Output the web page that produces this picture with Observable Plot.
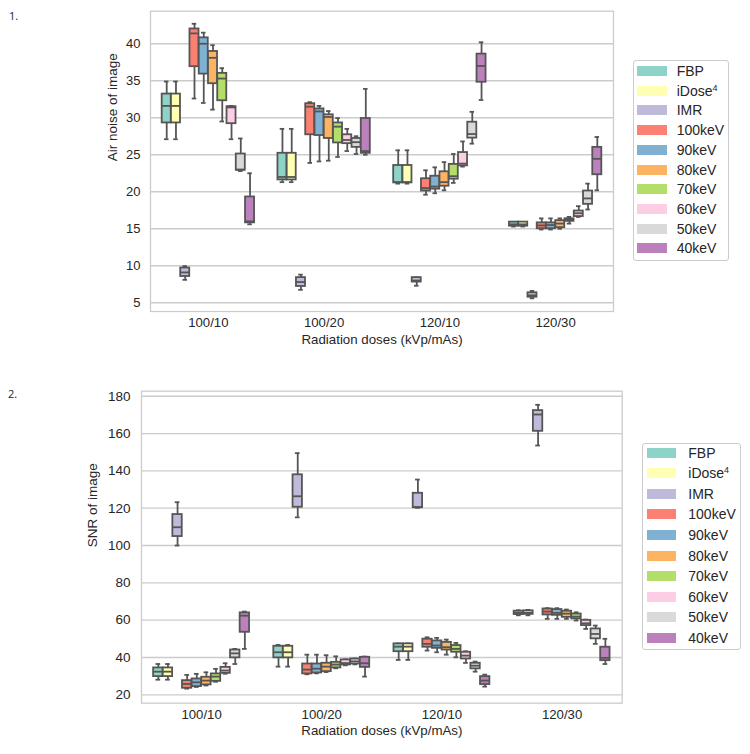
<!DOCTYPE html>
<html><head><meta charset="utf-8">
<script src="https://cdn.jsdelivr.net/npm/d3@7"></script>
<script src="https://cdn.jsdelivr.net/npm/@observablehq/plot@0.6"></script>
<style>
body{margin:0;background:#fff;font-family:"Liberation Sans",Arial,sans-serif;}
#root{position:relative;width:750px;height:754px;overflow:hidden;background:#fff;}
.num{position:absolute;font-family:"Open Sans",sans-serif;font-size:11px;color:#222;}
.legend{position:absolute;border:1px solid #cccccc;border-radius:3px;background:#fff;box-sizing:border-box;}
.sw{position:absolute;height:10px;}
.lab{position:absolute;font-size:14px;color:#262626;line-height:14px;white-space:nowrap;}
.lab sup{font-size:9px;vertical-align:5px;line-height:0;}
</style>
</head><body><div id="root"></div>
<script>
// Categories
const doses = ["100/10", "100/20", "120/10", "120/30"];
const methods = ["FBP", "iDose4", "IMR", "100keV", "90keV", "80keV", "70keV", "60keV", "50keV", "40keV"];
const methodLabels = ["FBP", "iDose<sup>4</sup>", "IMR", "100keV", "90keV", "80keV", "70keV", "60keV", "50keV", "40keV"];
const colors = ["#8dd3c7", "#ffffb3", "#bebada", "#fb8072", "#80b1d3", "#fdb462", "#b3de69", "#fccde5", "#d9d9d9", "#bc80bd"];
const noiseTicks = [5, 10, 15, 20, 25, 30, 35, 40];
const snrTicks = [20, 40, 60, 80, 100, 120, 140, 160, 180];

// Panel 1: Air noise — per method, per dose: [lower whisker, Q1, median, Q3, upper whisker]
const noiseFBP    = [[27.1,29.3,31.6,33.2,34.9],[21.3,21.6,22.0,25.2,28.5],[21.1,21.2,21.3,23.55,25.6],[15.3,15.35,15.6,15.9,15.9]];
const noiseIDose4 = [[27.1,29.3,31.6,33.2,34.9],[21.3,21.6,22.0,25.2,28.5],[21.1,21.2,21.3,23.55,25.6],[15.3,15.35,15.6,15.9,15.9]];
const noiseIMR    = [[8.1,8.55,9.1,9.7,9.95],[6.75,7.2,7.8,8.4,8.8],[7.3,7.8,8.0,8.4,8.4],[5.6,5.75,6.0,6.35,6.6]];
const noise100    = [[32.6,36.9,41.4,42.0,42.7],[23.9,27.7,31.5,31.9,32.1],[19.6,20.1,20.5,21.76,22.9],[14.9,15.0,15.45,15.8,16.4]];
const noise90     = [[32.0,35.9,40.0,40.8,41.5],[24.1,27.6,30.85,31.2,31.6],[19.8,20.35,20.7,22.1,23.3],[14.9,15.0,15.5,15.8,16.4]];
const noise80     = [[31.1,34.6,38.1,38.96,39.8],[24.2,27.2,30.1,30.4,30.9],[20.2,20.75,21.3,22.7,24.0],[15.0,15.15,15.7,16.1,16.4]];
const noise70     = [[29.5,32.3,35.3,36.0,36.7],[24.7,26.6,28.8,29.3,29.95],[21.2,21.7,22.1,23.7,25.1],[15.7,16.0,16.2,16.35,16.6]];
const noise60     = [[27.1,29.2,31.4,31.5,31.6],[25.5,26.5,27.0,27.7,28.5],[23.4,23.5,23.8,25.3,26.8],[16.6,16.65,17.1,17.4,18.05]];
const noise50     = [[22.8,22.9,23.0,25.1,27.2],[25.1,26.0,26.7,27.2,27.5],[26.5,27.25,27.8,29.4,30.8],[17.6,18.3,19.1,20.1,21.1]];
const noise40     = [[15.6,15.8,16.0,19.3,22.5],[25.0,25.2,25.5,29.9,33.9],[32.4,34.8,37.0,38.6,40.2],[20.2,22.3,24.45,26.0,27.4]];

// Panel 2: SNR
const snrFBP    = [[28.1,29.75,32.4,34.4,36.5],[35.1,39.8,42.8,46.0,46.7],[38.7,43.1,45.8,47.3,47.5],[62.6,63.0,63.9,64.8,65.3]];
const snrIDose4 = [[28.1,29.75,32.4,34.4,36.5],[35.1,39.8,42.8,46.0,46.7],[38.7,43.1,45.8,47.3,47.5],[62.6,63.1,64.0,65.0,65.5]];
const snrIMR    = [[100.0,104.8,109.8,116.6,123.2],[115.1,120.5,126.4,137.9,149.5],[120.2,120.3,120.5,128.0,135.35],[153.6,161.2,170.2,172.3,175.4]];
const snr100    = [[23.3,23.5,25.8,27.6,30.65],[31.0,31.2,33.5,36.5,41.5],[43.7,45.5,47.3,49.8,50.8],[60.7,62.8,64.6,66.0,66.4]];
const snr90     = [[24.2,24.4,26.7,28.5,31.2],[31.5,31.7,34.0,36.5,41.5],[42.8,44.9,46.4,48.9,50.5],[60.7,62.6,63.9,65.7,66.4]];
const snr80     = [[25.0,25.3,27.6,29.4,32.05],[32.2,32.4,35.1,36.9,41.2],[41.5,44.0,45.5,48.1,49.6],[60.7,61.5,63.5,64.8,65.7]];
const snr70     = [[27.0,27.2,29.75,31.2,33.9],[34.2,34.4,36.2,37.4,40.6],[40.1,42.8,44.6,46.4,47.8],[59.8,60.7,61.9,63.3,64.2]];
const snr60     = [[31.3,31.5,33.0,34.7,36.9],[35.8,36.0,37.0,38.7,39.0],[37.1,39.2,41.0,42.8,43.3],[55.3,57.1,58.3,59.9,60.3]];
const snr50     = [[36.5,39.8,42.2,44.0,44.6],[36.3,36.5,37.9,39.2,39.4],[32.4,33.9,35.6,36.9,37.8],[47.3,50.0,52.6,55.3,57.1]];
const snr40     = [[44.6,53.5,62.4,63.9,64.6],[29.75,34.7,36.9,40.1,40.5],[24.4,25.5,27.6,29.75,30.8],[36.5,38.3,39.8,45.5,50.0]];

const noiseSeries = [noiseFBP, noiseIDose4, noiseIMR, noise100, noise90, noise80, noise70, noise60, noise50, noise40];
const snrSeries = [snrFBP, snrIDose4, snrIMR, snr100, snr90, snr80, snr70, snr60, snr50, snr40];

const STEP = 0.08, HW = 0.039, EDGE = "#555555";

function table(series) {
  const rows = [];
  series.forEach((s, mi) => s.forEach((v, di) => {
    const pos = di + (mi - 4.5) * STEP;
    rows.push({method: methods[mi], dose: doses[di], pos, lo: v[0], q1: v[1], med: v[2], q3: v[3], hi: v[4]});
  }));
  return rows;
}

function chart({series, ticks, domain, width, height, mL, mR, mT, mB, ylabel, ydx, tickPad, fs}) {
  const data = table(series);
  return Plot.plot({
    width, height, marginLeft: mL, marginRight: mR, marginTop: mT, marginBottom: mB,
    style: {fontFamily: "'Liberation Sans', Arial, sans-serif", fontSize: fs + "px", color: "#262626", background: "transparent"},
    x: {domain: [-0.5, 3.5]},
    y: {domain},
    color: {domain: methods, range: colors},
    marks: [
      Plot.gridY(ticks, {stroke: "#cccccc", strokeOpacity: 1, strokeWidth: 1.3}),
      Plot.ruleX(data, {x: "pos", y1: "lo", y2: "q1", stroke: EDGE, strokeWidth: 1.8}),
      Plot.ruleX(data, {x: "pos", y1: "q3", y2: "hi", stroke: EDGE, strokeWidth: 1.8}),
      Plot.ruleY(data, {y: "lo", x1: d => d.pos - HW / 2, x2: d => d.pos + HW / 2, stroke: EDGE, strokeWidth: 1.8}),
      Plot.ruleY(data, {y: "hi", x1: d => d.pos - HW / 2, x2: d => d.pos + HW / 2, stroke: EDGE, strokeWidth: 1.8}),
      Plot.rect(data, {x1: d => d.pos - HW, x2: d => d.pos + HW, y1: "q1", y2: "q3", fill: "method", stroke: EDGE, strokeWidth: 1.8}),
      Plot.ruleY(data, {y: "med", x1: d => d.pos - HW, x2: d => d.pos + HW, stroke: EDGE, strokeWidth: 1.8}),
      Plot.frame({stroke: "#cccccc", strokeWidth: 1.3}),
      Plot.axisY({ticks, tickSize: 0, tickPadding: tickPad, label: null, fontSize: fs}),
      Plot.axisX({ticks: [0, 1, 2, 3], tickFormat: i => doses[i], tickSize: 0, tickPadding: 6, label: null, fontSize: 13.2}),
      Plot.text([ylabel], {text: d => d, frameAnchor: "left", rotate: -90, dx: ydx, lineAnchor: "middle", fontSize: 13.5, fill: "#262626"}),
      Plot.text(["Radiation doses (kVp/mAs)"], {text: d => d, frameAnchor: "bottom", dy: 28, lineAnchor: "middle", fontSize: 13.3, fill: "#262626"})
    ]
  });
}

const root = document.getElementById("root");

function place(el, left, top) { el.style.position = "absolute"; el.style.left = left + "px"; el.style.top = top + "px"; root.appendChild(el); }

const p1 = chart({series: noiseSeries, ticks: noiseTicks, domain: [3.82, 44.4], width: 620, height: 350,
  mL: 150, mR: 7, mT: 10.7, mB: 39, ylabel: "Air noise of image", ydx: -38, tickPad: 10, fs: 13});
place(p1, 0, 0);
const p2 = chart({series: snrSeries, ticks: snrTicks, domain: [15.5, 182.7], width: 630, height: 374,
  mL: 141, mR: 8.3, mT: 10.7, mB: 51.3, ylabel: "SNR of image", ydx: -48.5, tickPad: 11, fs: 13.5});
place(p2, 0, 380);

function num(t, left, top) { const d = document.createElement("div"); d.className = "num"; d.textContent = t; place(d, left, top); }
num("1.", 9, 8);
num("2.", 8, 386);

function legend(left, top, w, h, swL, swW, txtL, first, step) {
  const box = document.createElement("div");
  box.className = "legend";
  box.style.width = w + "px"; box.style.height = h + "px";
  methods.forEach((m, i) => {
    const cy = first + step * i;
    const sw = document.createElement("div");
    sw.className = "sw";
    sw.style.left = (swL - 1) + "px"; sw.style.top = (cy - 5 - 1) + "px"; sw.style.width = swW + "px";
    sw.style.background = colors[i];
    box.appendChild(sw);
    const lb = document.createElement("div");
    lb.className = "lab";
    lb.style.left = (txtL - 1) + "px"; lb.style.top = (cy - 7 - 1) + "px";
    lb.innerHTML = methodLabels[i];
    box.appendChild(lb);
  });
  place(box, left, top);
}
legend(632.7, 60, 96.6, 201, 4.6, 29.4, 44, 11, 19.7);
legend(641.7, 442.7, 99, 207.3, 5, 29.3, 46.6, 10, 20.6);
</script></body></html>
